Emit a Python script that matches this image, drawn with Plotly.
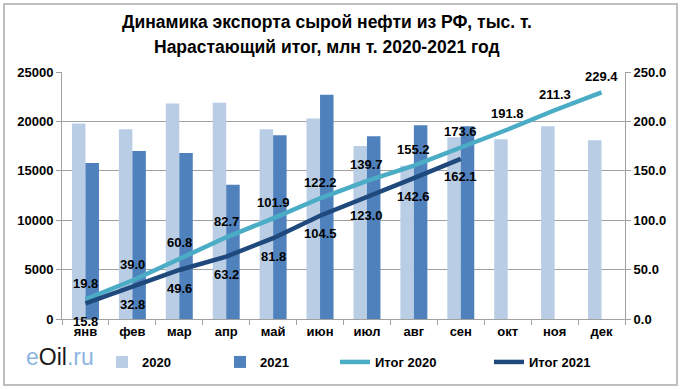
import plotly.graph_objects as go

months = ["янв", "фев", "мар", "апр", "май", "июн", "июл", "авг", "сен", "окт", "ноя", "дек"]
export_2020 = [19800, 19200, 21800, 21900, 19200, 20300, 17500, 15500, 18400, 18200, 19500, 18100]
export_2021 = [15800, 17000, 16800, 13600, 18600, 22700, 18500, 19600, 19500]
total_2020 = [19.8, 39.0, 60.8, 82.7, 101.9, 122.2, 139.7, 155.2, 173.6, 191.8, 211.3, 229.4]
total_2021 = [15.8, 32.8, 49.6, 63.2, 81.8, 104.5, 123.0, 142.6, 162.1]

title_lines = ["Динамика экспорта сырой нефти из РФ, тыс. т.", "Нарастающий итог, млн т. 2020-2021 год"]

W, H = 682, 389
L, R, T, B = 62, 625, 72, 319

FONT = "Liberation Sans, Arial, sans-serif"
lab_font = dict(family=FONT, size=13, color="black", weight="bold")

fig = go.Figure()
fig.add_trace(go.Bar(x=months, y=export_2020, name="2020", marker=dict(color="#B9CDE5", line=dict(width=0)),
                     legend="legend"))
fig.add_trace(go.Bar(x=months[:len(export_2021)], y=export_2021, name="2021",
                     marker=dict(color="#4F81BD", line=dict(width=0)), legend="legend2"))
fig.add_trace(go.Scatter(x=months, y=total_2020, name="Итог 2020", mode="lines", yaxis="y2",
                         line=dict(color="#4BACC6", width=4.5), legend="legend3"))
fig.add_trace(go.Scatter(x=months[:len(total_2021)], y=total_2021, name="Итог 2021", mode="lines", yaxis="y2",
                         line=dict(color="#1F497D", width=4.5), legend="legend4"))

annotations = []
for m, v in zip(months, total_2020):
    annotations.append(dict(x=m, y=v, xref="x", yref="y2", text=f"{v:.1f}", showarrow=False,
                            yshift=16, font=lab_font))
for m, v in zip(months, total_2021):
    annotations.append(dict(x=m, y=v, xref="x", yref="y2", text=f"{v:.1f}", showarrow=False,
                            yshift=-18, font=lab_font))

pw, ph = R - L, B - T
def px(x):
    return (x - L) / pw
def py(y):
    return (B - y) / ph

# title
for i, line in enumerate(title_lines):
    annotations.append(dict(xref="paper", yref="paper", x=px(327), y=py(22 + 25 * i), xanchor="center",
                            yanchor="middle", showarrow=False, text=line,
                            font=dict(family=FONT, size=17.5, color="black", weight="bold")))

# logo
annotations.append(dict(xref="paper", yref="paper", x=px(24), y=py(357), xanchor="left", yanchor="middle",
                        showarrow=False,
                        text="<span style='color:#8DB4E2'>e</span>Oil<span style='color:#8DB4E2'>.ru</span>",
                        font=dict(family=FONT, size=23, color="#1a1a1a")))

shapes = [dict(type="rect", xref="paper", yref="paper", x0=px(4), x1=px(677), y0=py(385), y1=py(4),
               line=dict(color="#BFBFBF", width=2), layer="below")]

def leg(xpix):
    return dict(orientation="h", xref="container", yref="container", x=xpix / W, y=1 - 362 / H,
                xanchor="left", yanchor="middle", bgcolor="rgba(0,0,0,0)",
                font=dict(family=FONT, size=13, color="black", weight="bold"))

fig.update_layout(
    width=W, height=H,
    margin=dict(l=L, r=W - R, t=T, b=H - B, autoexpand=False),
    paper_bgcolor="white", plot_bgcolor="white",
    barmode="group", bargap=0.425, bargroupgap=0,
    xaxis=dict(range=[-0.5, 11.5], showline=True, linecolor="#A0A0A0", linewidth=1,
               ticks="outside", tickson="boundaries", ticklen=5, tickcolor="#A0A0A0",
               tickfont=lab_font, showgrid=False),
    yaxis=dict(range=[0, 25000], dtick=5000, tickformat="d", showline=True, linecolor="#A0A0A0", linewidth=1,
               ticks="outside", ticklen=5, tickcolor="#A0A0A0", gridcolor="#A0A0A0", gridwidth=1,
               tickfont=lab_font, zeroline=False),
    yaxis2=dict(range=[0, 250], dtick=50, tickformat=".1f", overlaying="y", side="right",
                showline=True, linecolor="#A0A0A0", linewidth=1, ticks="outside", ticklen=5,
                tickcolor="#A0A0A0", showgrid=False, tickfont=lab_font, zeroline=False),
    showlegend=True,
    legend=leg(102), legend2=leg(220), legend3=leg(335), legend4=leg(489),
    annotations=annotations, shapes=shapes,
)

fig.write_html("out.html", config={"displayModeBar": False},
               post_script="document.body.style.margin='0';document.body.style.overflow='hidden';")
